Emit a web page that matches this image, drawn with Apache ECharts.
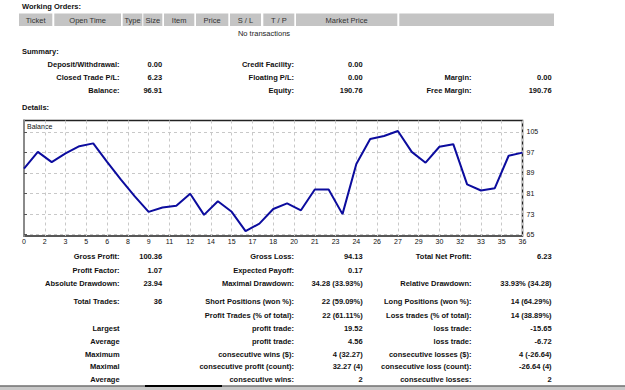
<!DOCTYPE html>
<html>
<head>
<meta charset="utf-8">
<style>
html,body{margin:0;padding:0;background:#fff;}
#c{width:625px;height:390px;}
</style>
<script src="https://cdn.jsdelivr.net/npm/echarts@6/dist/echarts.min.js"></script>
</head>
<body>
<div id="c"></div>
<script>
// ---- data ----
var balance = [90.68, 97.2, 93.2, 96.6, 99.4, 100.5, 93.3, 86.4, 79.9, 73.86,
  75.6, 76.3, 80.9, 72.7, 78.0, 73.9, 66.4, 69.3, 75.0, 77.2,
  74.5, 82.6, 82.6, 73.0, 92.5, 102.2, 103.4, 105.3, 97.2, 93.0,
  99.2, 100.2, 84.55, 82.2, 83.1, 95.7, 96.91];
var yTicks = [65, 73, 81, 89, 97, 105];
var xLabelStep = 1.5;

var headerCols = ["Ticket", "Open Time", "Type", "Size", "Item", "Price", "S / L", "T / P", "Market Price", ""];
var summaryRows = [
  ["Deposit/Withdrawal:", "0.00", "Credit Facility:", "0.00", "", ""],
  ["Closed Trade P/L:", "6.23", "Floating P/L:", "0.00", "Margin:", "0.00"],
  ["Balance:", "96.91", "Equity:", "190.76", "Free Margin:", "190.76"]
];
var detailRows = [
  ["Gross Profit:", "100.36", "Gross Loss:", "94.13", "Total Net Profit:", "6.23"],
  ["Profit Factor:", "1.07", "Expected Payoff:", "0.17", "", ""],
  ["Absolute Drawdown:", "23.94", "Maximal Drawdown:", "34.28 (33.93%)", "Relative Drawdown:", "33.93% (34.28)"],
  ["Total Trades:", "36", "Short Positions (won %):", "22 (59.09%)", "Long Positions (won %):", "14 (64.29%)"],
  ["", "", "Profit Trades (% of total):", "22 (61.11%)", "Loss trades (% of total):", "14 (38.89%)"],
  ["Largest", "", "profit trade:", "19.52", "loss trade:", "-15.65"],
  ["Average", "", "profit trade:", "4.56", "loss trade:", "-6.72"],
  ["Maximum", "", "consecutive wins ($):", "4 (32.27)", "consecutive losses ($):", "4 (-26.64)"],
  ["Maximal", "", "consecutive profit (count):", "32.27 (4)", "consecutive loss (count):", "-26.64 (4)"],
  ["Average", "", "consecutive wins:", "2", "consecutive losses:", "2"]
];

// ---- layout ----
var FONT = 'bold 7.5px "Liberation Sans", Arial, sans-serif';
var SMALL = '7px "Liberation Sans", Arial, sans-serif';
var colRight = [119.6, 162.2, 294, 362.7, 471.5, 551.6];
var summaryY = [64.3, 77.3, 90.7];
var detailY = [256.7, 270.2, 283.5, 301.7, 315, 328.3, 341, 354, 366.7, 379.7];
var headerCells = [[19, 52.3], [54.3, 121], [122.7, 142.3], [143.3, 162.3], [164, 194.3], [196, 228.3], [230, 261], [263.3, 294.3], [296, 397.3], [399.3, 554]];

var g = [];
function txt(x, y, s, font, align, fill) {
  g.push({type: 'text', x: x, y: y, silent: true,
    style: {text: s, font: font, align: align || 'left', verticalAlign: 'middle', fill: fill || '#111'}});
}
txt(22, 6.7, 'Working Orders:', FONT);
headerCells.forEach(function (c, i) {
  g.push({type: 'rect', shape: {x: c[0], y: 13.5, width: c[1] - c[0], height: 12.5}, style: {fill: '#c4c4c4'}, silent: true});
  if (headerCols[i]) txt((c[0] + c[1]) / 2, 20, headerCols[i], '7.5px "Liberation Sans", Arial, sans-serif', 'center', '#333');
});
txt(264, 33, 'No transactions', '7.5px "Liberation Sans", Arial, sans-serif', 'center', '#222');
txt(22, 51.7, 'Summary:', FONT);
txt(22, 107.5, 'Details:', FONT);
function rows(data, ys) {
  data.forEach(function (r, ri) {
    r.forEach(function (s, ci) { if (s) txt(colRight[ci], ys[ri], s, FONT, 'right'); });
  });
}
rows(summaryRows, summaryY);
rows(detailRows, detailY);
txt(27, 126, 'Balance', SMALL, 'left', '#111');
// bottom scroll bar
g.push({type: 'rect', shape: {x: 0, y: 385.5, width: 625, height: 4.5}, style: {fill: '#c8c8c8'}, silent: true});
g.push({type: 'rect', shape: {x: 0, y: 385.5, width: 625, height: 1}, style: {fill: '#444'}, silent: true});
g.push({type: 'rect', shape: {x: 145, y: 385, width: 77, height: 2}, style: {fill: '#000'}, silent: true});

var chart = echarts.init(document.getElementById('c'), null, {renderer: 'svg'});
chart.setOption({
  animation: false,
  backgroundColor: '#fff',
  grid: {left: 24, top: 120.5, width: 498.5, height: 115.5, show: true, borderColor: '#222', borderWidth: 1.5, backgroundColor: 'transparent'},
  xAxis: {
    type: 'value', min: 0, max: balance.length - 1, interval: xLabelStep,
    axisLine: {show: false}, axisTick: {show: false},
    axisLabel: {fontSize: 7, color: '#111', margin: 2, fontFamily: 'Liberation Sans',
      formatter: function (v) { return String(Math.round(v)); }},
    splitLine: {show: true, lineStyle: {color: '#c8c8c8', type: [3, 3], width: 1}}
  },
  yAxis: {
    type: 'value', position: 'right', min: 64.5, max: 109.4,
    axisLine: {show: true, lineStyle: {color: '#8a8a8a', width: 2}},
    axisTick: {show: true, length: 3, inside: false, customValues: yTicks, lineStyle: {color: '#555'}},
    axisLabel: {fontSize: 7, color: '#111', margin: 4, fontFamily: 'Liberation Sans', customValues: yTicks},
    splitLine: {show: true, lineStyle: {color: '#c8c8c8', type: [3, 3], width: 1}}
  },
  series: [{
    type: 'line', symbol: 'none', silent: true,
    data: balance.map(function (v, i) { return [i, v]; }),
    lineStyle: {color: '#0c0c9e', width: 2}
  }],
  graphic: g
});
</script>
</body>
</html>
